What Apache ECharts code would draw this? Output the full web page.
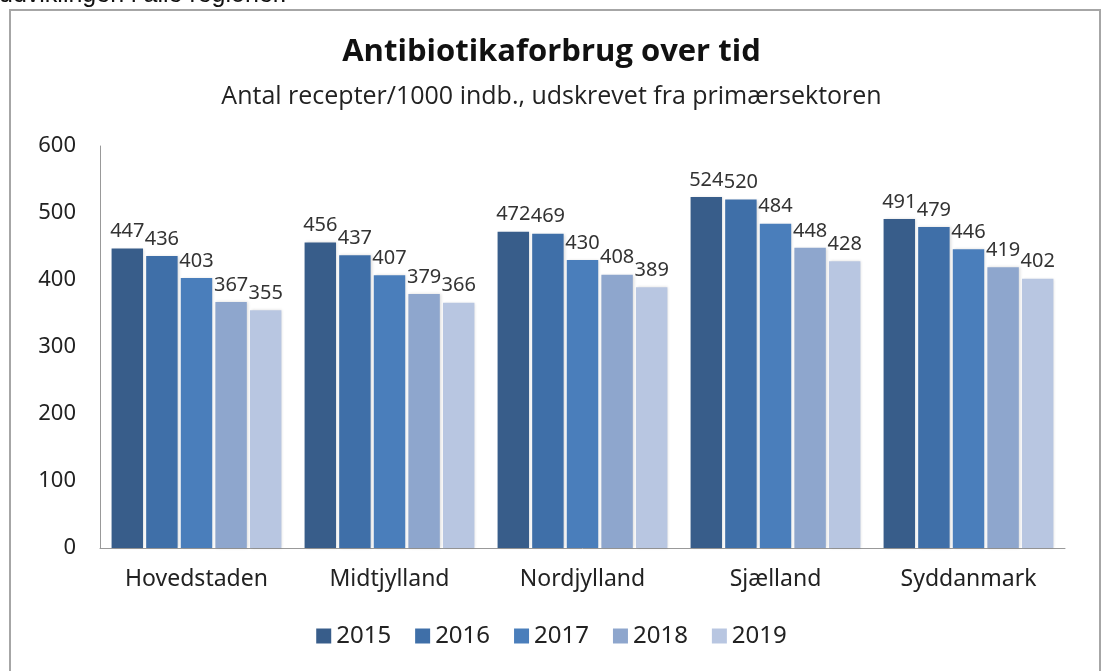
<!DOCTYPE html>
<html>
<head>
    <meta charset="utf-8" />
    <title>Antibiotikaforbrug over tid</title>
    <script src="https://cdn.jsdelivr.net/npm/echarts@6/dist/echarts.min.js"></script>
</head>
<body style="margin:0;background:#fff;">
    <div id="main" style="width:1103px;height:671px;"></div>
    <script type="text/javascript">
        // regioner og aar
        var regioner = ['Hovedstaden', 'Midtjylland', 'Nordjylland', 'Sjælland', 'Syddanmark'];
        var aar = ['2015', '2016', '2017', '2018', '2019'];
        // recepter pr. 1000 indb., en raekke pr. aar
        var v2015 = [447, 456, 472, 524, 491];
        var v2016 = [436, 437, 469, 520, 479];
        var v2017 = [403, 407, 430, 484, 446];
        var v2018 = [367, 379, 408, 448, 419];
        var v2019 = [355, 366, 389, 428, 402];
        var yTicks = [0, 100, 200, 300, 400, 500, 600];

        var farver = ['#385d8a', '#3f6fa8', '#4a7ebb', '#8ea6cd', '#b8c6e1'];
        var alleData = [v2015, v2016, v2017, v2018, v2019];

        var myChart = echarts.init(document.getElementById('main'));
        var serier = [];
        for (var i = 0; i < aar.length; i++) {
            serier.push({
                name: aar[i],
                type: 'bar',
                data: alleData[i],
                barGap: '10%',
                barCategoryGap: '12%',
                itemStyle: {
                    color: farver[i],
                    shadowColor: 'rgba(0,0,0,0.15)',
                    shadowBlur: 3,
                    shadowOffsetX: 1
                },
                label: {
                    show: true,
                    position: 'top',
                    distance: 7,
                    color: '#333',
                    fontSize: 20,
                    fontFamily: 'Noto Sans'
                }
            });
        }

        myChart.setOption({
            animation: false,
            title: {
                text: 'Antibiotikaforbrug over tid',
                subtext: 'Antal recepter/1000 indb., udskrevet fra primærsektoren',
                left: 'center',
                top: 32,
                itemGap: 16,
                textStyle: { fontSize: 31, fontWeight: 'bold', color: '#111', fontFamily: 'Open Sans' },
                subtextStyle: { fontSize: 25, color: '#222', fontFamily: 'Open Sans' }
            },
            legend: {
                data: aar,
                bottom: 18,
                left: 'center',
                itemWidth: 15,
                itemHeight: 15,
                itemGap: 24,
                icon: 'rect',
                textStyle: { fontSize: 24, color: '#222', fontFamily: 'Noto Sans' }
            },
            grid: { left: 100, right: 38, top: 146, bottom: 123 },
            xAxis: {
                type: 'category',
                data: regioner,
                axisTick: { show: false },
                axisLine: { lineStyle: { color: '#999' } },
                axisLabel: { fontSize: 23, color: '#222', margin: 20, fontFamily: 'Noto Sans' }
            },
            yAxis: {
                type: 'value',
                min: yTicks[0],
                max: yTicks[yTicks.length - 1],
                interval: 100,
                splitLine: { show: false },
                axisLine: { show: true, lineStyle: { color: '#999' } },
                axisLabel: { fontSize: 22, color: '#222', margin: 24, fontFamily: 'Noto Sans' }
            },
            graphic: [
                {
                    type: 'rect',
                    shape: { x: 10, y: 10, width: 1090, height: 670 },
                    style: { fill: 'none', stroke: '#a6a6a6', lineWidth: 2 }
                },
                {
                    type: 'text',
                    left: -1,
                    top: -17,
                    style: { text: 'udviklingen i alle regioner.', fontSize: 25, fill: '#111', fontFamily: 'Liberation Sans' }
                }
            ],
            series: serier
        });
    </script>
</body>
</html>
